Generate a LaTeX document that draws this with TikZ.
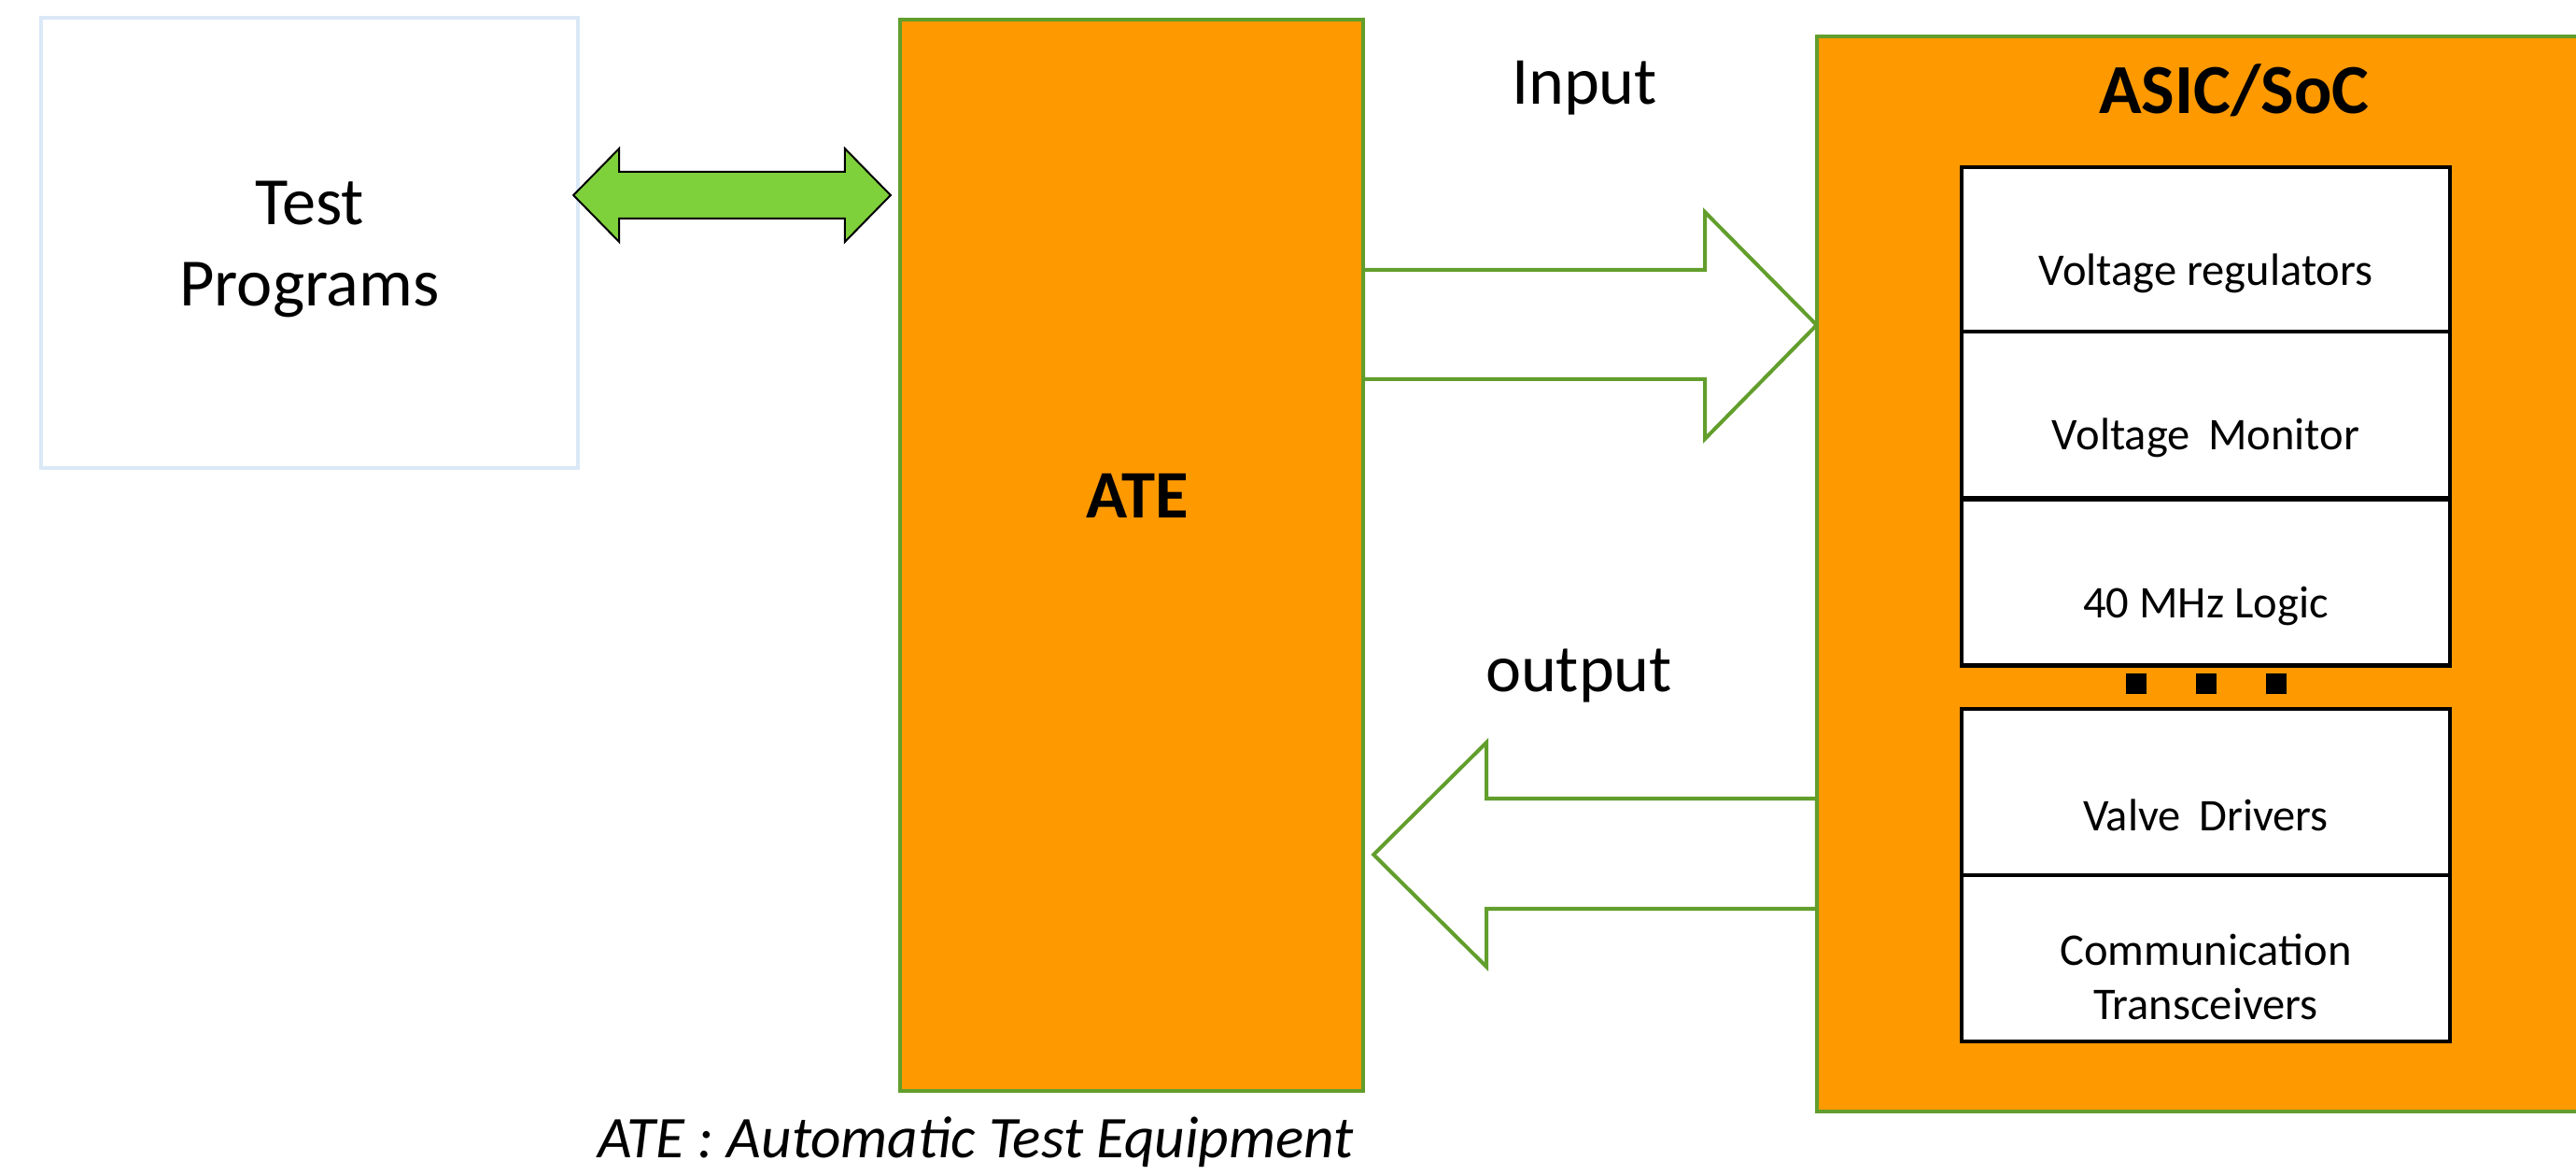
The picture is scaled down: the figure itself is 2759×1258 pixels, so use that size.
\documentclass[tikz,border=0pt]{standalone}
\usepackage{fontspec}
\setmainfont{Carlito}
\usepackage{tikz}
\usetikzlibrary{calc}
\definecolor{ateorange}{HTML}{FF9900}
\definecolor{rimgreen}{RGB}{98,158,44}
\definecolor{linkgreen}{HTML}{7FD13B}
\definecolor{paleblue}{HTML}{DAE8F7}
\tikzstyle{block} = [draw=rimgreen,fill=ateorange,line width=0.04cm,rectangle,inner sep=0,outer sep=0]
\tikzstyle{part} = [draw=black,fill=white,line width=0.045cm,rectangle,minimum width=5.23cm,minimum height=1.78cm,inner sep=0,outer sep=0]
\tikzstyle{partlabel} = [font=\fontsize{13.8}{16.5}\selectfont,align=center,yshift=-0.25cm]
\tikzstyle{fatarrow} = [draw=rimgreen,fill=white,line width=0.04cm,line join=miter]
\tikzstyle{biglabel} = [font=\fontsize{20.5}{25}\selectfont,anchor=base]

\begin{document}
\begin{tikzpicture}[x=0.01cm,y=-0.01cm]
\useasboundingbox (0,0) rectangle (2759,1258);
\node[draw=paleblue,fill=white,line width=0.04cm,rectangle,align=center,minimum width=5.75cm,
    minimum height=4.82cm,inner sep=0,outer sep=0,font=\fontsize{20.6}{25}\selectfont]
    (test) at (331.5,260) {\raisebox{-0.07cm}[\height][\depth]{Test}\\\raisebox{-0.07cm}[\height][\depth]{Programs}};
\node[block,minimum width=4.96cm,minimum height=11.47cm] (ate) at (1212,594.5) {};
\node[font=\bfseries\fontsize{20.7}{25}\selectfont,anchor=base] (atename) at (1218,555) {ATE};
\node[block,minimum width=8.54cm,minimum height=11.51cm] (asic) at (2373,614.5) {};
\node[font=\bfseries\fontsize{21.4}{26}\selectfont] (asicname) at (2393,97) {ASIC/SoC};

\node[part,label={[partlabel]center:Voltage regulators}] (vreg) at (2362.5,268) {};
\node[part,label={[partlabel]center:Voltage\hspace{0.4em}Monitor}] (vmon) at (2362.5,444) {};
\node[part,label={[partlabel]center:40 MHz Logic}] (logic) at (2362.5,623.5) {};
\node[part,label={[partlabel]center:Valve\hspace{0.4em}Drivers}] (valve) at (2362.5,848) {};
\node[part,label={[partlabel,yshift=0.05cm]center:Communication\\Transceivers}] (comm) at (2362.5,1026) {};
\foreach \dx in {-75,0,75}
    \fill ($(logic.south)+(\dx-11,8)$) rectangle ++(22,22);

\coordinate (lt) at ($(test.east |- 0,209)+(-5,0)$);
\coordinate (rt) at ($(ate.west |- 0,209)+(-10,0)$);
\draw[draw=black,fill=linkgreen,line width=0.02cm] (lt) -- ++(49,-50) -- ++(0,25) -- ($(rt)+(-49,-25)$)
    -- ++(0,-25) -- (rt) -- ++(-49,50) -- ++(0,-25) -- ($(lt)+(49,25)$) -- ++(0,25) -- cycle;

\draw[fatarrow] (ate.east |- 0,289) -- (1826,289) -- (1826,227) -- (asic.west |- 0,348)
    -- (1826,470) -- (1826,406) -- (ate.east |- 0,406) -- cycle;
\draw[fatarrow] (asic.west |- 0,855) -- (1592,855) -- (1592,795) -- ($(ate.east |- 0,915)+(11,0)$)
    -- (1592,1035) -- (1592,973) -- (asic.west |- 0,973) -- cycle;
\node[biglabel] (inlbl) at (1697,112) {Input};
\node[biglabel] (outlbl) at (1691,741) {output};

\node[font=\itshape\fontsize{18}{22}\selectfont] (caption) at (1045,1223) {ATE : Automatic Test Equipment};
\end{tikzpicture}
\end{document}
